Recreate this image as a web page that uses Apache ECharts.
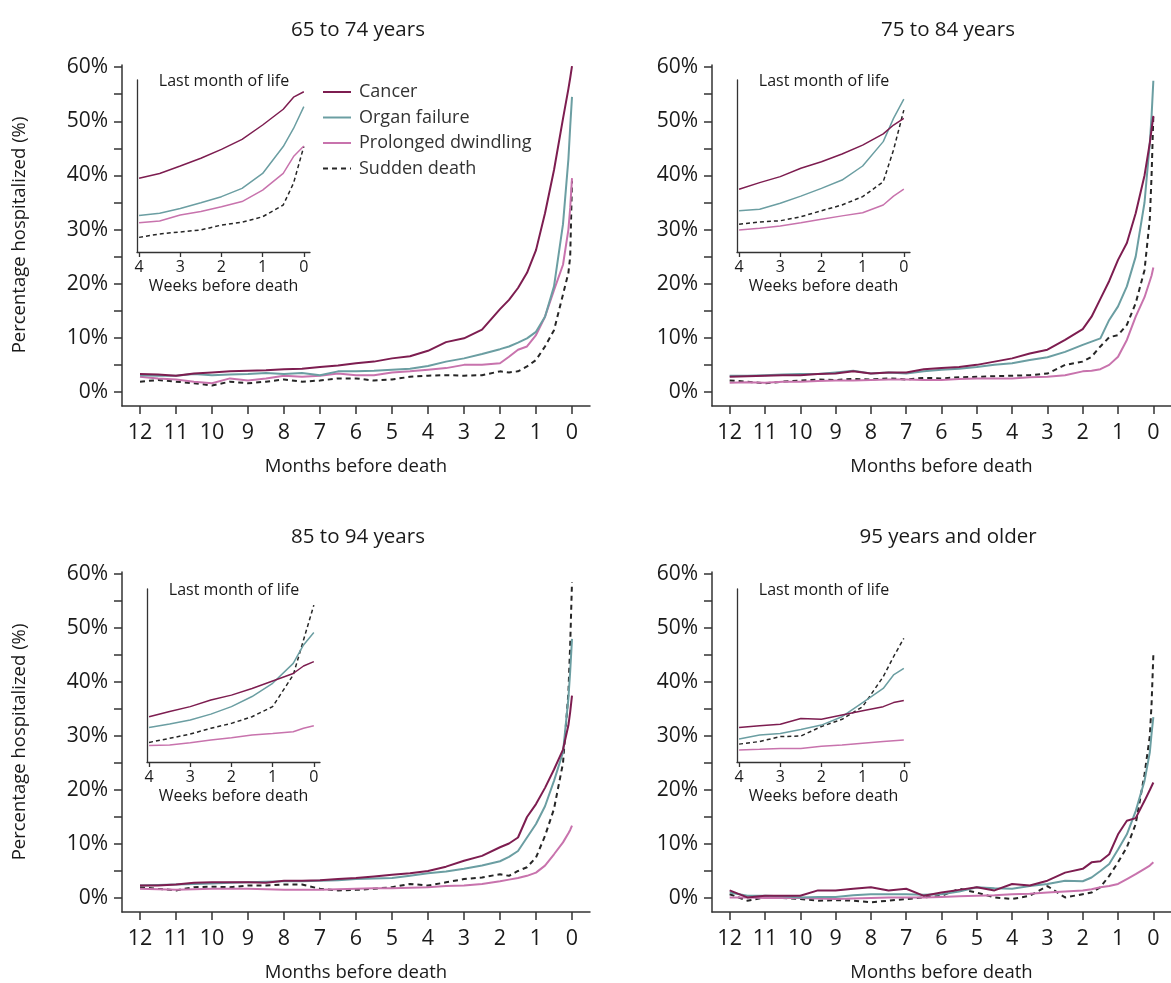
<!DOCTYPE html>
<html><head><meta charset="utf-8">
<script src="https://cdn.jsdelivr.net/npm/echarts@6/dist/echarts.min.js"></script>
<style>html,body{margin:0;padding:0;background:#fff}#c{width:1171px;height:983px}</style>
</head><body><div id="c"></div>
<script>
// ---------- DATA ----------
const panelTitles = ['65 to 74 years', '75 to 84 years', '85 to 94 years', '95 years and older'];
const seriesNames = ['Cancer', 'Organ failure', 'Prolonged dwindling', 'Sudden death'];
const monthTicks = [0,1,2,3,4,5,6,7,8,9,10,11,12];
const weekTicks = [0,1,2,3,4];
const pctTicks = [0,10,20,30,40,50,60];
const pctMinorTicks = [0,5,10,15,20,25,30,35,40,45,50,55,60];

// months before death (x of main panels)
const months = [12,11.5,11,10.5,10,9.5,9,8.5,8,7.5,7,6.5,6,5.5,5,4.5,4,3.5,3,2.5,2,1.75,1.5,1.25,1,0.75,0.5,0.25,0.1,0.05,0];

// 65 to 74 years
const p1Cancer    = [3.3,3.2,3.0,3.4,3.6,3.8,3.9,4.0,4.2,4.3,4.6,4.9,5.3,5.6,6.2,6.6,7.6,9.2,9.9,11.5,15.3,17.0,19.2,22.0,26.2,33.0,41.0,50.5,56.0,58.0,60.2];
const p1Organ     = [3.1,3.0,3.0,3.3,3.1,3.2,3.3,3.5,3.3,3.5,3.1,3.8,3.8,3.9,4.1,4.3,4.8,5.6,6.2,7.0,7.9,8.4,9.1,9.9,11.1,13.9,19.5,31.0,43.0,49.0,54.5];
const p1Prolonged = [2.8,2.5,2.3,1.9,1.6,2.5,2.1,2.5,3.0,2.8,3.0,3.4,3.1,3.1,3.6,3.8,4.1,4.4,5.0,5.0,5.3,6.5,7.8,8.4,10.5,13.9,18.8,23.5,30.0,34.0,39.5];
const p1Sudden    = [1.9,2.2,1.9,1.6,1.2,1.9,1.6,1.9,2.3,1.9,2.1,2.5,2.5,2.1,2.3,2.8,3.0,3.1,3.0,3.1,3.8,3.6,3.8,4.7,5.9,8.4,11.4,18.0,22.0,25.0,39.0];
// 75 to 84 years
const p2Cancer    = [2.8,2.9,3.0,3.1,3.1,3.3,3.4,3.8,3.4,3.6,3.6,4.2,4.4,4.6,5.0,5.6,6.2,7.1,7.8,9.6,11.6,13.9,17.2,20.5,24.4,27.5,33.0,40.0,46.0,48.5,51.0];
const p2Organ     = [3.0,3.0,3.1,3.2,3.3,3.3,3.6,3.9,3.4,3.6,3.4,3.8,4.1,4.3,4.6,5.0,5.3,5.9,6.4,7.4,8.7,9.3,9.9,13.3,15.8,19.5,25.0,35.0,46.0,51.0,57.5];
const p2Prolonged = [1.7,1.8,1.7,1.9,1.9,2.0,2.1,2.1,2.2,2.3,2.3,2.2,2.2,2.4,2.5,2.5,2.5,2.7,2.8,3.1,3.8,3.9,4.2,5.0,6.5,9.6,13.9,17.5,20.5,21.5,23.0];
const p2Sudden    = [2.1,1.9,1.6,1.9,2.1,2.3,2.2,2.4,2.3,2.5,2.3,2.6,2.5,2.7,2.8,2.9,3.0,3.1,3.4,5.0,5.6,6.5,8.4,10.1,10.5,12.4,16.4,22.5,32.0,40.0,51.0];
// 85 to 94 years
const p3Cancer    = [2.3,2.3,2.5,2.8,2.9,2.9,2.9,2.8,3.2,3.2,3.3,3.5,3.7,4.0,4.3,4.6,5.0,5.8,6.9,7.8,9.4,10.1,11.2,15.0,17.4,20.4,23.8,27.5,32.0,34.5,37.5];
const p3Organ     = [2.3,2.4,2.5,2.6,2.7,2.8,2.9,3.0,3.1,3.1,3.2,3.3,3.5,3.6,3.7,4.1,4.6,4.9,5.4,6.0,6.8,7.6,8.7,11.2,13.7,17.0,21.7,27.0,37.0,42.0,48.0];
const p3Prolonged = [1.7,1.6,1.5,1.6,1.7,1.7,1.7,1.6,1.5,1.5,1.5,1.6,1.7,1.8,1.8,1.9,2.0,2.2,2.3,2.6,3.1,3.4,3.7,4.1,4.7,6.0,8.1,10.3,12.0,12.6,13.4];
const p3Sudden    = [2.0,1.7,1.4,2.0,2.1,2.0,2.3,2.3,2.5,2.5,1.7,1.4,1.5,1.7,2.0,2.6,2.3,2.9,3.5,3.8,4.4,4.1,5.0,5.7,7.5,11.5,16.5,25.0,38.0,47.0,58.5];
// 95 years and older
const p4Cancer    = [1.4,0.1,0.4,0.4,0.4,1.4,1.4,1.7,2.0,1.4,1.7,0.4,1.0,1.5,2.0,1.4,2.6,2.3,3.2,4.7,5.4,6.6,6.8,8.1,11.8,14.3,14.8,18.0,20.0,20.7,21.4];
const p4Organ     = [1.0,0.4,0.4,0.3,0.1,0.2,0.2,0.5,0.7,0.7,0.7,0.6,0.7,1.2,2.0,1.8,1.7,2.2,2.6,3.2,3.1,3.8,5.0,6.3,9.0,11.8,16.1,21.7,27.0,30.5,33.5];
const p4Prolonged = [0.1,0.1,0.0,0.0,0.0,-0.1,-0.2,-0.1,0.0,0.1,0.1,0.1,0.2,0.3,0.4,0.5,0.7,0.8,1.0,1.2,1.4,1.6,2.0,2.2,2.6,3.5,4.4,5.4,6.0,6.3,6.6];
const p4Sudden    = [0.7,-0.5,0.1,0.0,-0.2,-0.5,-0.4,-0.5,-0.8,-0.5,-0.2,0.1,0.4,1.7,1.0,0.1,-0.2,0.4,2.2,0.1,0.7,1.0,2.0,4.1,6.6,9.4,13.7,22.9,30.0,36.0,45.0];

// weeks before death (x of insets)
const weeks = [4,3.5,3,2.5,2,1.5,1,0.5,0.25,0];
const i1Cancer    = [25.7,27.4,30.0,32.7,35.8,39.3,44.3,49.8,54.0,55.9];
const i1Organ     = [12.7,13.5,15.2,17.2,19.3,22.2,27.4,36.8,43.1,50.7];
const i1Prolonged = [10.2,10.8,12.9,14.1,15.8,17.6,21.6,27.4,33.3,37.0];
const i1Sudden    = [5.1,6.3,7.0,7.7,9.4,10.4,12.3,16.4,24.0,36.8];
const i2Cancer    = [21.9,24.2,26.3,29.2,31.5,34.2,37.3,41.2,44.3,46.6];
const i2Organ     = [14.4,14.9,17.0,19.5,22.2,25.1,30.0,38.5,46.6,53.3];
const i2Prolonged = [7.7,8.3,9.1,10.2,11.4,12.6,13.7,16.4,19.5,21.9];
const i2Sudden    = [9.7,10.5,10.9,12.3,14.4,16.4,19.3,24.5,35.6,49.5];
const i3Cancer    = [15.7,17.5,19.2,21.5,23.2,25.5,28.1,30.7,33.3,34.8];
const i3Organ     = [12.0,13.2,14.6,16.6,19.2,22.7,27.3,34.2,40.6,44.9];
const i3Prolonged = [5.7,5.9,6.7,7.6,8.4,9.4,9.9,10.5,11.7,12.6];
const i3Sudden    = [6.8,8.2,9.7,11.7,13.4,15.7,19.2,30.2,42.3,54.4];
const i4Cancer    = [12.0,12.6,13.1,15.1,14.8,16.3,17.8,19.2,20.6,21.3];
const i4Organ     = [8.0,9.4,9.9,11.3,12.8,15.7,20.6,25.5,30.2,32.5];
const i4Prolonged = [4.2,4.4,4.7,4.7,5.5,5.9,6.5,7.1,7.4,7.6];
const i4Sudden    = [6.2,7.1,8.8,9.0,12.3,14.8,19.2,29.6,36.5,42.9];

// ---------- BUILD ----------
const mainData = [
  [p1Cancer,p1Organ,p1Prolonged,p1Sudden],
  [p2Cancer,p2Organ,p2Prolonged,p2Sudden],
  [p3Cancer,p3Organ,p3Prolonged,p3Sudden],
  [p4Cancer,p4Organ,p4Prolonged,p4Sudden]
];
const insetData = [
  [i1Cancer,i1Organ,i1Prolonged,i1Sudden],
  [i2Cancer,i2Organ,i2Prolonged,i2Sudden],
  [i3Cancer,i3Organ,i3Prolonged,i3Sudden],
  [i4Cancer,i4Organ,i4Prolonged,i4Sudden]
];
const colors = ['#7d1d50', '#6b9ea2', '#c873ad', '#262626'];
const FONT = '"Open Sans", "Noto Sans", sans-serif';
const TXT = '#1a1a1a';
const AX = '#333333';

const mainGrids = [
  {left:122, top:65, width:468, height:341},
  {left:712, top:65, width:468, height:341},
  {left:122, top:572, width:468, height:341},
  {left:712, top:572, width:468, height:341}
];
const insetGrids = [
  {left:137, top:80, width:173, height:172},
  {left:737, top:80, width:173, height:172},
  {left:147, top:589, width:173, height:173},
  {left:737, top:589, width:173, height:173}
];

const grid = [], xAxis = [], yAxis = [], series = [], title = [];
for (let p = 0; p < 4; p++) {
  grid.push(mainGrids[p]);
  xAxis.push({
    type:'value', gridIndex:p, inverse:true, min:-0.5, max:12.5,
    name:'Months before death', nameLocation:'middle', nameGap:51,
    nameTextStyle:{fontFamily:FONT, fontSize:18.5, color:TXT},
    axisLine:{show:true, onZero:false, lineStyle:{color:AX, width:1.5}},
    axisTick:{show:true, length:8, customValues:monthTicks, lineStyle:{color:AX, width:1.5}},
    axisLabel:{customValues:monthTicks, margin:16, fontFamily:FONT, fontSize:21.5, color:TXT},
    splitLine:{show:false}
  });
  yAxis.push({
    type:'value', gridIndex:p, min:-2.6, max:60.4,
    axisLine:{show:true, onZero:false, lineStyle:{color:AX, width:1.5}},
    axisTick:{show:true, length:8, customValues:pctMinorTicks, lineStyle:{color:AX, width:1.5}},
    axisLabel:{customValues:pctTicks, margin:14, fontFamily:FONT, fontSize:21, color:TXT, formatter:'{value}%'},
    splitLine:{show:false}
  });
  title.push({
    text: panelTitles[p], left: mainGrids[p].left + 231, top: p >= 2 ? 522 : 15, textAlign:'center',
    textStyle:{fontFamily:FONT, fontSize:20.5, fontWeight:'normal', color:TXT}
  });
  for (let s = 0; s < 4; s++) {
    series.push({
      type:'line', name:seriesNames[s], xAxisIndex:p, yAxisIndex:p,
      data: months.map((m,i)=>[m, mainData[p][s][i]]),
      symbol:'none', smooth:false, z: 10 - s,
      lineStyle:{color:colors[s], width:2, type: s===3 ? [5,4] : 'solid'},
      itemStyle:{color:colors[s]}
    });
  }
}
for (let p = 0; p < 4; p++) {
  const gi = 4 + p;
  grid.push(insetGrids[p]);
  xAxis.push({
    type:'value', gridIndex:gi, inverse:true, min:-0.15, max:4.05,
    name:'Weeks before death', nameLocation:'middle', nameGap:26,
    nameTextStyle:{fontFamily:FONT, fontSize:16, color:TXT},
    axisLine:{show:true, onZero:false, lineStyle:{color:AX, width:1.3}},
    axisTick:{show:true, length:5, customValues:weekTicks, lineStyle:{color:AX, width:1.3}},
    axisLabel:{customValues:weekTicks, margin:7, fontFamily:FONT, fontSize:16, color:TXT},
    splitLine:{show:false}
  });
  yAxis.push({
    type:'value', gridIndex:gi, min:0, max:60,
    axisLine:{show:true, onZero:false, lineStyle:{color:AX, width:1.3}},
    axisTick:{show:false}, axisLabel:{show:false}, splitLine:{show:false}
  });
  title.push({
    text:'Last month of life', left: insetGrids[p].left + 82, top: insetGrids[p].top - 12, textAlign:'center',
    textStyle:{fontFamily:FONT, fontSize:16, fontWeight:'normal', color:TXT}
  });
  for (let s = 0; s < 4; s++) {
    series.push({
      type:'line', name:seriesNames[s], xAxisIndex:gi, yAxisIndex:gi,
      data: weeks.map((w,i)=>[w, insetData[p][s][i]]),
      symbol:'none', z: 10 - s,
      lineStyle:{color:colors[s], width:1.5, type: s===3 ? [4,3] : 'solid'},
      itemStyle:{color:colors[s]}
    });
  }
}

const chart = echarts.init(document.getElementById('c'), null, {renderer:'canvas'});
chart.setOption({
  animation:false,
  backgroundColor:'#ffffff',
  title,
  legend:{
    data: seriesNames, orient:'vertical', left:322, top:83, padding:0,
    itemWidth:28, itemHeight:12, itemGap:7.5,
    itemStyle:{opacity:0},
    textStyle:{fontFamily:FONT, fontSize:18, color:'#333', padding:[0,0,0,3]}
  },
  grid, xAxis, yAxis, series,
  graphic:[
    {type:'text', x:20, y:235, rotation:Math.PI/2,
     style:{text:'Percentage hospitalized (%)', font:'18.5px "Open Sans", sans-serif', fill:TXT, align:'center', verticalAlign:'middle'}},
    {type:'text', x:20, y:742, rotation:Math.PI/2,
     style:{text:'Percentage hospitalized (%)', font:'18.5px "Open Sans", sans-serif', fill:TXT, align:'center', verticalAlign:'middle'}}
  ]
});
</script></body></html>
